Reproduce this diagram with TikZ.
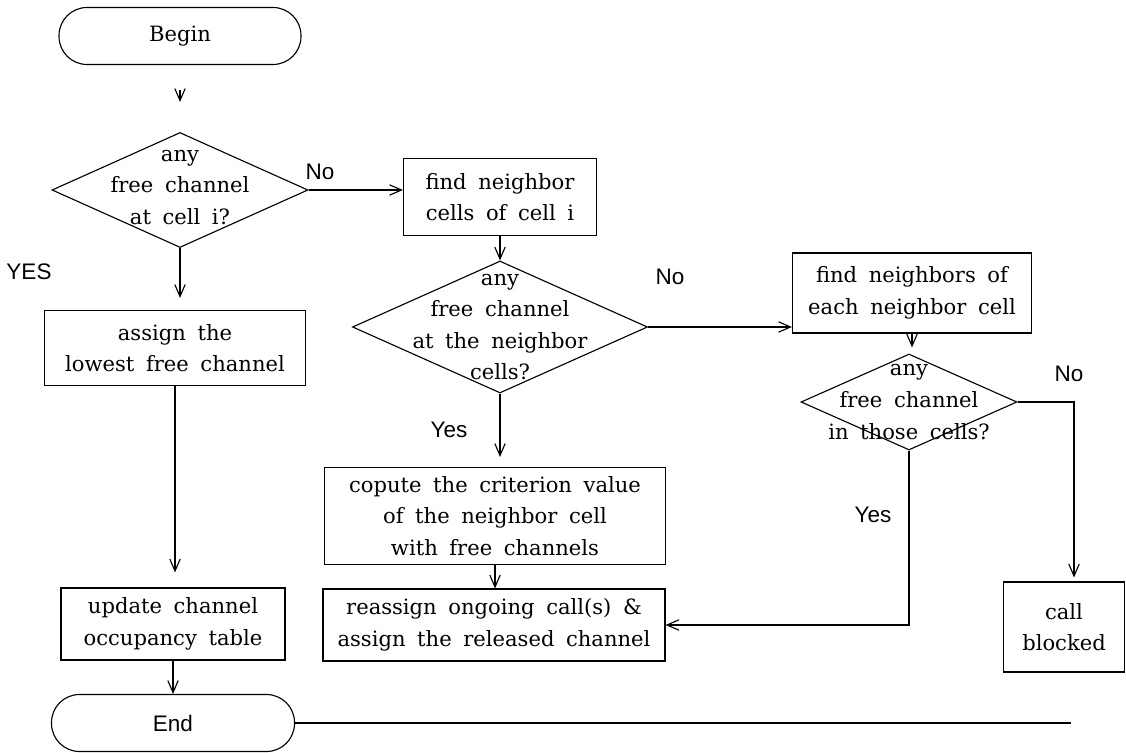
\documentclass[tikz,border=0pt]{standalone}
\usepackage{fontspec}
\setmainfont{DejaVu Serif}
\setsansfont{Liberation Sans}
\usetikzlibrary{arrows.meta,shapes.geometric}
\newcommand\wordgap{\spaceskip=0.55em plus 0.1em\relax}

\begin{document}
\begin{tikzpicture}[>={Straight Barb[length=3mm,width=2.6mm]},line width=0.8pt,
    txt/.style={align=center,font=\fontsize{15}{22.5}\selectfont\wordgap},
    lbl/.style={font=\fontsize{16}{19}\selectfont\sffamily},
    stepbox/.style={draw,rectangle,txt},
    terminal/.style={draw,rectangle,rounded corners=0.7cm,minimum height=1.425cm},
    decision/.style={draw,diamond,inner sep=0pt}]
    \useasboundingbox (0,0) rectangle (28.15,-18.825);

    \node[terminal,txt,minimum width=6.05cm] (begin) at (4.5,-0.9) {Begin};
    \node[decision,minimum width=6.4cm,minimum height=2.875cm,label={[txt,yshift=2pt]center:any\\free channel\\at cell i?}] (dia1) at (4.5,-4.75) {};
    \node[stepbox,minimum width=4.825cm,minimum height=1.925cm] (find) at (12.5,-4.925) {find neighbor\\cells of cell i};
    \node[decision,minimum width=7.375cm,minimum height=3.3cm,label={[txt]center:any\\free channel\\at the neighbor\\cells?}] (dia2) at (12.5,-8.175) {};
    \node[stepbox,minimum width=5.975cm,minimum height=2cm] (findn) at (22.8,-7.325) {find neighbors of\\each neighbor cell};
    \node[decision,minimum width=5.4cm,minimum height=2.4cm,label={[txt]center:any\\free channel\\in those cells?}] (dia3) at (22.725,-10.05) {};
    \node[stepbox,minimum width=6.525cm,minimum height=1.875cm] (assign) at (4.375,-8.7) {assign the\\lowest free channel};
    \node[stepbox,minimum width=8.525cm,minimum height=2.425cm] (crit) at (12.375,-12.9) {copute the criterion value\\of the neighbor cell\\with free channels};
    \node[stepbox,minimum width=8.55cm,minimum height=1.8cm] (reas) at (12.35,-15.625) {reassign ongoing call(s) \&\\assign the released channel};
    \node[stepbox,minimum width=5.6cm,minimum height=1.8cm] (update) at (4.325,-15.6) {update channel\\occupancy table};
    \node[terminal,lbl,minimum width=6.075cm] (finish) at (4.325,-18.075) {End};
    \node[stepbox,minimum width=3.025cm,minimum height=2.25cm] (blocked) at (26.6,-15.675) {call\\blocked};
    \coordinate (tail) at (26.775,-18.075);

    \node[lbl] (no1) at (8.0,-4.3) {No};
    \node[lbl] (yes1) at (0.725,-6.8) {YES};
    \node[lbl] (no2) at (16.75,-6.925) {No};
    \node[lbl] (yes2) at (11.225,-10.75) {Yes};
    \node[lbl] (no3) at (26.725,-9.35) {No};
    \node[lbl] (yes3) at (21.825,-12.875) {Yes};

    \draw[->,shorten <=0.625cm,shorten >=0.75cm] (begin) -- (dia1);
    \draw[->] (dia1.east) -- (dia1.east -| find.west);
    \draw[->,shorten >=0.3cm] (dia1.south) -- (dia1.south |- assign.north);
    \draw[->,shorten >=0.375cm] (assign.south) -- (assign.south |- update.north);
    \draw[->] (update.south) -- (update.south |- finish.north);
    \draw[->] (find.south) -- (find.south |- dia2.north);
    \draw[->] (dia2.east) -- (dia2.east -| findn.west);
    \draw[->,shorten >=0.25cm] (dia2.south) -- (dia2.south |- crit.north);
    \draw[->] (crit.south) -- (crit.south |- reas.north);
    \draw[->,shorten >=0.15cm] (findn.south) -- (findn.south |- dia3.north);
    \draw[->,shorten >=0.1cm] (dia3.east) -| ([xshift=0.25cm]blocked.north);
    \draw[->] (dia3.south) |- (reas.east);
    \draw (finish.east) -- (tail);
\end{tikzpicture}
\end{document}
